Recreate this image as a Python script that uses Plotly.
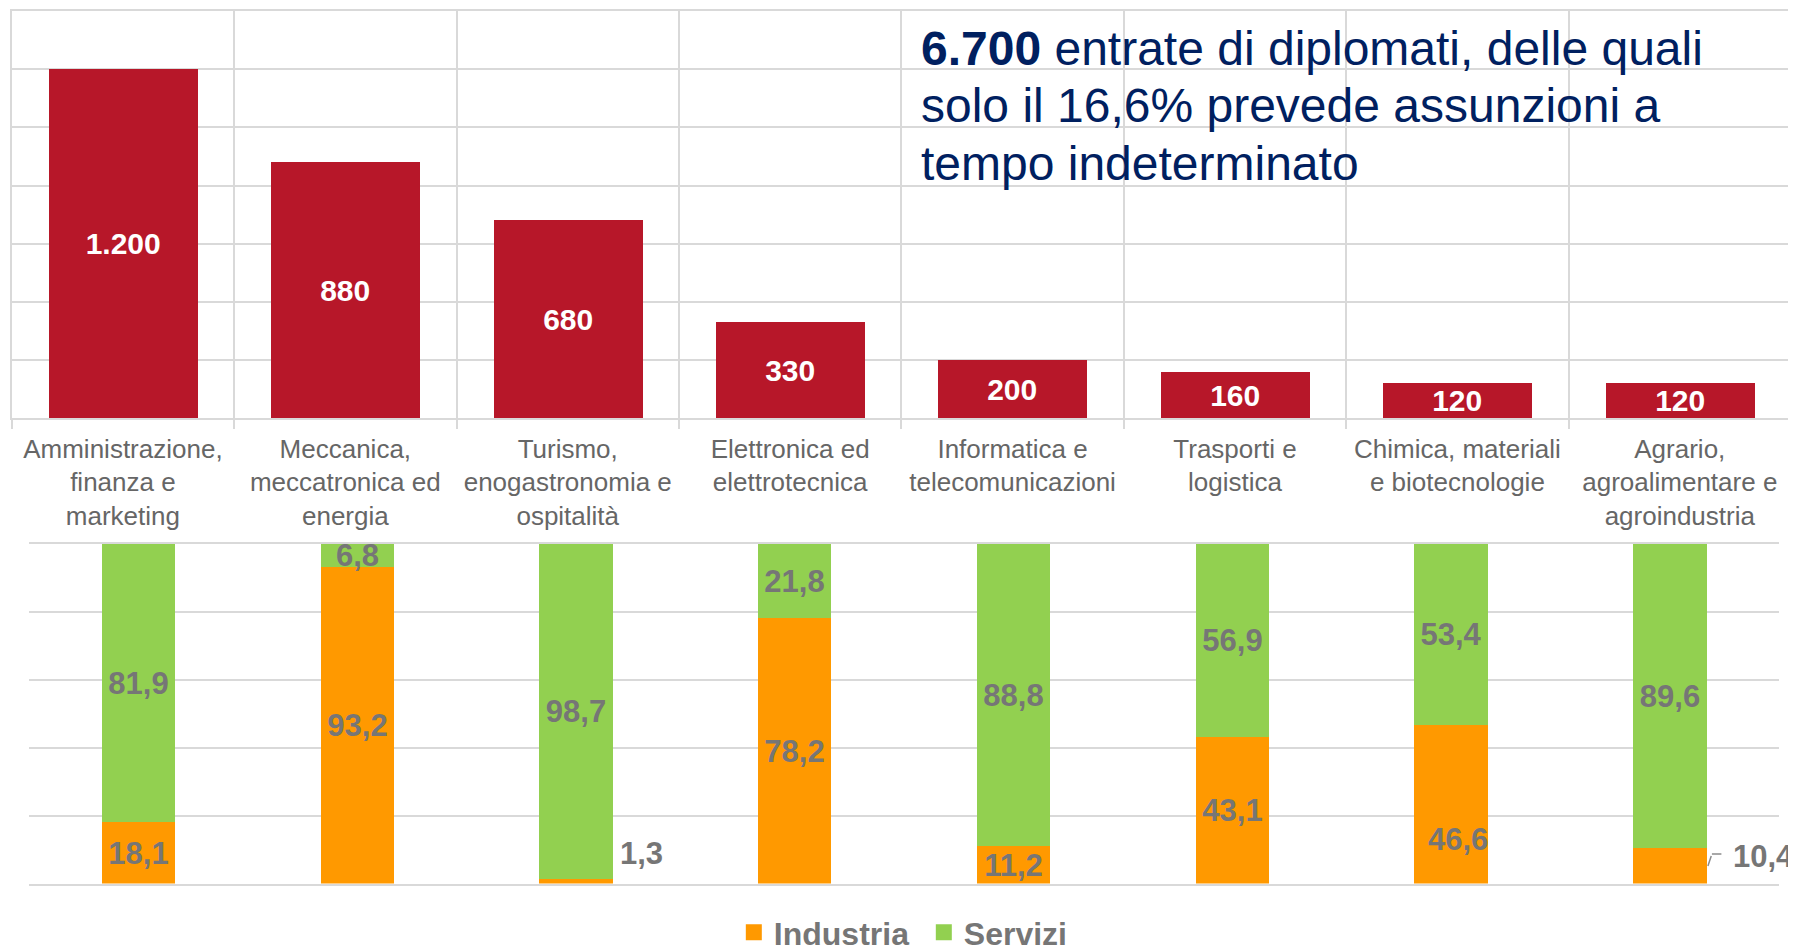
import plotly.graph_objects as go

# ---- data ----
categories = [
    "Amministrazione,<br>finanza e<br>marketing",
    "Meccanica,<br>meccatronica ed<br>energia",
    "Turismo,<br>enogastronomia e<br>ospitalità",
    "Elettronica ed<br>elettrotecnica",
    "Informatica e<br>telecomunicazioni",
    "Trasporti e<br>logistica",
    "Chimica, materiali<br>e biotecnologie",
    "Agrario,<br>agroalimentare e<br>agroindustria",
]
entrate = [1200, 880, 680, 330, 200, 160, 120, 120]
industria = [18.1, 93.2, 1.3, 78.2, 11.2, 43.1, 46.6, 10.4]
servizi = [81.9, 6.8, 98.7, 21.8, 88.8, 56.9, 53.4, 89.6]
series_names = ["Industria", "Servizi"]

title_lines = [
    "<b>6.700</b> entrate di diplomati, delle quali",
    "solo il 16,6% prevede assunzioni a",
    "tempo indeterminato",
]

# ---- styles ----
FONT = "Liberation Sans, Arial, sans-serif"
RED = "#B71729"
ORANGE = "#FF9900"
GREEN = "#92D050"
LABEL_GRAY = "#767676"
CAT_GRAY = "#666666"
GRID = "#D9D9D9"
NAVY = "#002060"
LEADER = "#8C8C8C"

# page body has an 8px margin: figure sized to fill the rest of the window
W, H = 1788, 944


def it_int(v):
    return f"{v:,}".replace(",", ".")


def it_dec(v):
    return f"{v:.1f}".replace(".", ",")


# labels handled separately as annotations (outside / moved)
special_idx = {2, 6, 7}

ind_text = ["" if i in special_idx else it_dec(v)
            for i, v in enumerate(industria)]

fig = go.Figure()

fig.add_trace(go.Bar(
    x=categories, y=entrate, xaxis="x", yaxis="y",
    marker=dict(color=RED, line=dict(width=0)), width=0.67,
    text=[it_int(v) for v in entrate], textposition="inside",
    insidetextanchor="middle", constraintext="none",
    textfont=dict(family=FONT, size=30, color="white", weight="bold"),
    showlegend=False, hoverinfo="skip",
))

fig.add_trace(go.Bar(
    x=categories, y=industria, xaxis="x2", yaxis="y2", name=series_names[0],
    marker=dict(color=ORANGE, line=dict(width=0)), width=0.335,
    text=ind_text, textposition="inside", insidetextanchor="middle",
    constraintext="none", showlegend=False,
    textfont=dict(family=FONT, size=31, color=LABEL_GRAY, weight="bold"),
))

fig.add_trace(go.Bar(
    x=categories, y=servizi, xaxis="x2", yaxis="y2", name=series_names[1],
    marker=dict(color=GREEN, line=dict(width=0)), width=0.335,
    text=[it_dec(v) for v in servizi], textposition="inside",
    insidetextanchor="middle", constraintext="none", showlegend=False,
    textfont=dict(family=FONT, size=31, color=LABEL_GRAY, weight="bold"),
))

# legend entries with larger square swatches
for name, col in zip(series_names, [ORANGE, GREEN]):
    fig.add_trace(go.Scatter(
        x=[None], y=[None], xaxis="x2", yaxis="y2", mode="markers",
        name=name, marker=dict(symbol="square", size=16, color=col),
        hoverinfo="skip",
    ))

annotations = []
for line, ypos in zip(title_lines, [0.9575, 0.8970, 0.8355]):
    annotations.append(dict(
        xref="paper", yref="paper", x=0.5095, y=ypos, xanchor="left",
        yanchor="middle", align="left", showarrow=False, text=line,
        font=dict(family=FONT, size=48, color=NAVY)))

lab_font = dict(family=FONT, size=31, color=LABEL_GRAY, weight="bold")
# 1,3 outside to the right
i = 2
annotations.append(dict(
    xref="x2", yref="y2", x=categories[i], y=industria[i], xanchor="left",
    yanchor="middle", xshift=42, yshift=26, showarrow=False,
    text=it_dec(industria[i]), font=lab_font))
# 10,4 with elbow leader line
i = 7
tiny = dict(size=1, color="rgba(0,0,0,0)")
annotations.append(dict(
    xref="x2", yref="y2", x=categories[i], y=industria[i] / 2, xshift=38,
    showarrow=True, arrowhead=0, arrowwidth=1.5, arrowcolor=LEADER,
    standoff=0, ax=4, ay=-12, text=" ", font=tiny))
annotations.append(dict(
    xref="x2", yref="y2", x=categories[i], y=industria[i] / 2, xshift=42,
    yshift=12, showarrow=True, arrowhead=0, arrowwidth=1.5,
    arrowcolor=LEADER, standoff=0, ax=11, ay=0, text=" ", font=tiny))
annotations.append(dict(
    xref="x2", yref="y2", x=categories[i], y=industria[i] / 2, xshift=61,
    yshift=9, xanchor="left", yanchor="middle", showarrow=False,
    text=it_dec(industria[i]), font=lab_font))
# 46,6 moved down slightly
i = 6
annotations.append(dict(
    xref="x2", yref="y2", x=categories[i], y=industria[i] / 2, xshift=7,
    yshift=-35, showarrow=False, text=it_dec(industria[i]), font=lab_font))

fig.update_layout(
    width=W, height=H, autosize=False,
    margin=dict(l=0, r=0, t=0, b=0, autoexpand=False),
    paper_bgcolor="white", plot_bgcolor="white",
    barmode="stack", bargap=0.0,
    font=dict(family=FONT),
    xaxis=dict(domain=[0.00207, 0.99720], anchor="y", type="category",
               range=[-0.5, 7.5], tickson="boundaries", ticks="outside",
               ticklen=9, tickwidth=2, tickcolor=GRID, showgrid=True,
               gridcolor=GRID, gridwidth=2, showline=True, linecolor=GRID,
               linewidth=2, mirror=True, automargin=False,
               ticklabelstandoff=6,
               tickfont=dict(family=FONT, size=26, color=CAT_GRAY)),
    yaxis=dict(domain=[0.56536, 0.99682], anchor="x", range=[0, 1400],
               dtick=200, showgrid=True, gridcolor=GRID, gridwidth=2,
               showticklabels=False, zeroline=False, showline=True,
               linecolor=GRID, linewidth=2, mirror=True, automargin=False),
    xaxis2=dict(domain=[0.011745, 0.99066], anchor="y2", type="category",
                range=[-0.5, 7.5], showgrid=False, showticklabels=False,
                ticks="", showline=True, linecolor=GRID, linewidth=2,
                mirror=True, zeroline=False, automargin=False),
    yaxis2=dict(domain=[0.072458, 0.43220], anchor="x2", range=[0, 100],
                dtick=20, showgrid=True, gridcolor=GRID, gridwidth=2,
                showticklabels=False, zeroline=False, showline=False,
                automargin=False),
    legend=dict(orientation="h", x=0.5122, xanchor="center", y=0.0206,
                yanchor="middle", itemwidth=30, traceorder="normal",
                entrywidth=145, entrywidthmode="pixels",
                font=dict(family=FONT, size=32, color=LABEL_GRAY,
                          weight="bold")),
    annotations=annotations,
)

fig.write_html("out.html")
